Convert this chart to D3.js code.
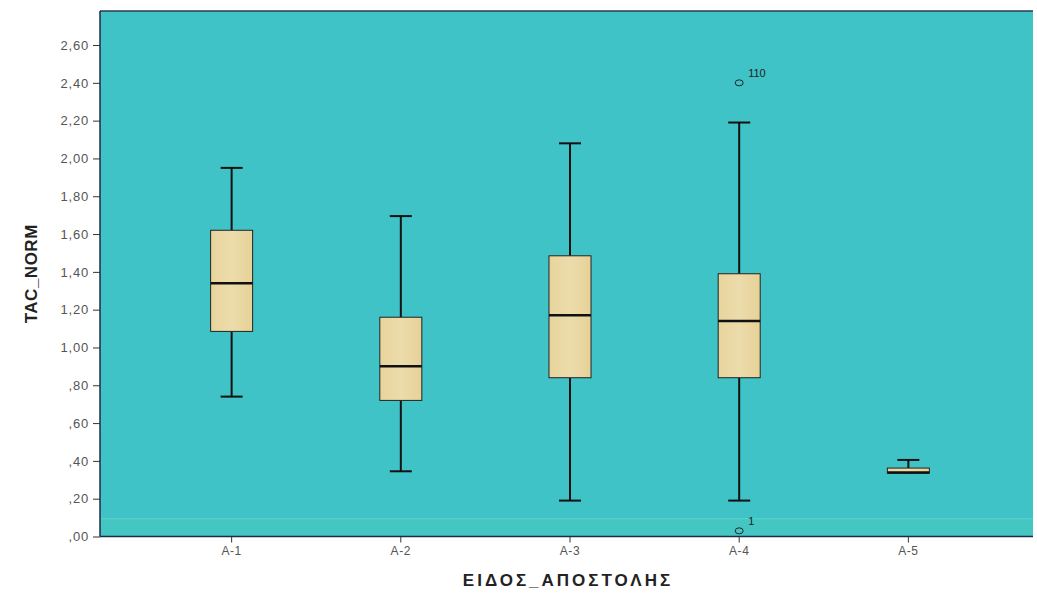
<!DOCTYPE html>
<html><head><meta charset="utf-8">
<script src="https://cdn.jsdelivr.net/npm/d3@7"></script>
<style>body{margin:0;background:#fff;} svg{display:block;}</style>
</head><body>
<svg id="chart" width="1037" height="593"></svg>
<script>
const categories = ["A-1","A-2","A-3","A-4","A-5"];
const whiskerLow  = [0.74, 0.345, 0.19, 0.19, 0.34];
const q1          = [1.085, 0.72, 0.84, 0.84, 0.335];
const medians     = [1.34, 0.90, 1.17, 1.14, 0.338];
const q3          = [1.62, 1.16, 1.485, 1.39, 0.362];
const whiskerHigh = [1.95, 1.695, 2.08, 2.19, 0.405];
const outliers = [{cat:"A-4", value:2.40, label:"110"}, {cat:"A-4", value:0.03, label:"1"}];
const yTicks = [0,0.2,0.4,0.6,0.8,1.0,1.2,1.4,1.6,1.8,2.0,2.2,2.4,2.6];
const yTitle = "TAC_NORM";
const xTitle = "ΕΙΔΟΣ_ΑΠΟΣΤΟΛΗΣ";

(function(){
const svg = d3.select("#chart");
const pL = 100, pR = 1033, pT = 11, pB = 536.5;
const y = d3.scaleLinear().domain([0, 2.78]).range([pB, pT]);
const x = d3.scaleBand().domain(categories).range([100, 1040]).paddingOuter(0.278).paddingInner(0);
const FONT = "Liberation Sans, Arial, sans-serif";

const defs = svg.append("defs");
const g1 = defs.append("linearGradient").attr("id","boxfill").attr("x1","0").attr("x2","1");
g1.append("stop").attr("offset","0%").attr("stop-color","#e8d49c");
g1.append("stop").attr("offset","50%").attr("stop-color","#ecdcac");
g1.append("stop").attr("offset","100%").attr("stop-color","#e6d197");

svg.append("rect").attr("x", pL).attr("y", pT).attr("width", pR-pL).attr("height", pB-pT)
  .attr("fill", "#40c3c6");
svg.append("rect").attr("x", pL).attr("y", y(0.095)).attr("width", pR-pL).attr("height", pB - y(0.095))
  .attr("fill", "#44c6c3");
svg.append("line").attr("x1", pL).attr("x2", pR).attr("y1", y(0.095)).attr("y2", y(0.095))
  .attr("stroke", "#58cfc6").attr("stroke-width", 1.2);
svg.append("line").attr("x1", pL).attr("x2", pR).attr("y1", pT).attr("y2", pT)
  .attr("stroke", "#2a3a5a").attr("stroke-width", 1.5);

const fmt = v => { const s = v.toFixed(2).replace(".", ","); return s.startsWith("0") ? s.slice(1) : s; };
const yAxis = d3.axisLeft(y).tickValues(yTicks).tickFormat(fmt).tickSize(7).tickPadding(4);
const ya = svg.append("g").attr("transform", `translate(${pL},0)`).call(yAxis);
ya.select(".domain").attr("stroke", "#1d2a4a").attr("stroke-width", 1.5).attr("d", `M0,${pB}V${pT}`);
ya.selectAll(".tick line").attr("stroke", "#333");
ya.selectAll("text").attr("font-family", FONT).attr("font-size", 13).attr("letter-spacing", 0.8).attr("fill", "#555");

const xAxis = d3.axisBottom(x).tickSize(6).tickPadding(4);
const xa = svg.append("g").attr("transform", `translate(0,${pB})`).call(xAxis);
xa.select(".domain").attr("stroke", "#1d2a4a").attr("stroke-width", 1.5).attr("d", `M${pL},0H${pR}`);
xa.selectAll(".tick line").attr("stroke", "#333");
xa.selectAll("text").attr("font-family", FONT).attr("font-size", 12).attr("letter-spacing", 0.6).attr("fill", "#555");

const boxW = 42, capW = 22;
const data = categories.map((c,i) => ({c, lo: whiskerLow[i], q1: q1[i], med: medians[i], q3: q3[i], hi: whiskerHigh[i]}));
const bg = svg.append("g");
data.forEach(d => {
  const cx = x(d.c) + x.bandwidth()/2;
  const g = bg.append("g");
  g.append("line").attr("x1", cx).attr("x2", cx).attr("y1", y(d.hi)).attr("y2", y(d.q3)).attr("stroke", "#111").attr("stroke-width", 2);
  g.append("line").attr("x1", cx).attr("x2", cx).attr("y1", y(d.q1)).attr("y2", y(d.lo)).attr("stroke", "#111").attr("stroke-width", 2);
  g.append("line").attr("x1", cx-capW/2).attr("x2", cx+capW/2).attr("y1", y(d.hi)).attr("y2", y(d.hi)).attr("stroke", "#111").attr("stroke-width", 2);
  g.append("line").attr("x1", cx-capW/2).attr("x2", cx+capW/2).attr("y1", y(d.lo)).attr("y2", y(d.lo)).attr("stroke", "#111").attr("stroke-width", 2);
  g.append("rect").attr("x", cx-boxW/2).attr("y", y(d.q3)).attr("width", boxW).attr("height", Math.max(1, y(d.q1)-y(d.q3)))
    .attr("fill", "url(#boxfill)").attr("stroke", "#222").attr("stroke-width", 1);
  g.append("line").attr("x1", cx-boxW/2).attr("x2", cx+boxW/2).attr("y1", y(d.med)).attr("y2", y(d.med)).attr("stroke", "#111").attr("stroke-width", 2.5);
});

outliers.forEach(o => {
  const cx = x(o.cat) + x.bandwidth()/2;
  svg.append("ellipse").attr("cx", cx).attr("cy", y(o.value)).attr("rx", 4).attr("ry", 3)
    .attr("fill", "none").attr("stroke", "#222").attr("stroke-width", 1);
  svg.append("text").attr("x", cx + 9).attr("y", y(o.value) - 6).text(o.label)
    .attr("font-family", FONT).attr("font-size", 11).attr("fill", "#222");
});

svg.append("text").attr("transform", `translate(37,${(pT+pB)/2}) rotate(-90)`).attr("text-anchor", "middle")
  .attr("font-family", FONT).attr("font-weight", "bold").attr("font-size", 17).attr("fill", "#222")
  .attr("letter-spacing", 0.5)
  .text(yTitle);
svg.append("text").attr("x", 568).attr("y", 586).attr("text-anchor", "middle")
  .attr("font-family", FONT).attr("font-weight", "bold").attr("font-size", 17).attr("fill", "#222")
  .attr("letter-spacing", 3)
  .text(xTitle);
})();
</script>
</body></html>
